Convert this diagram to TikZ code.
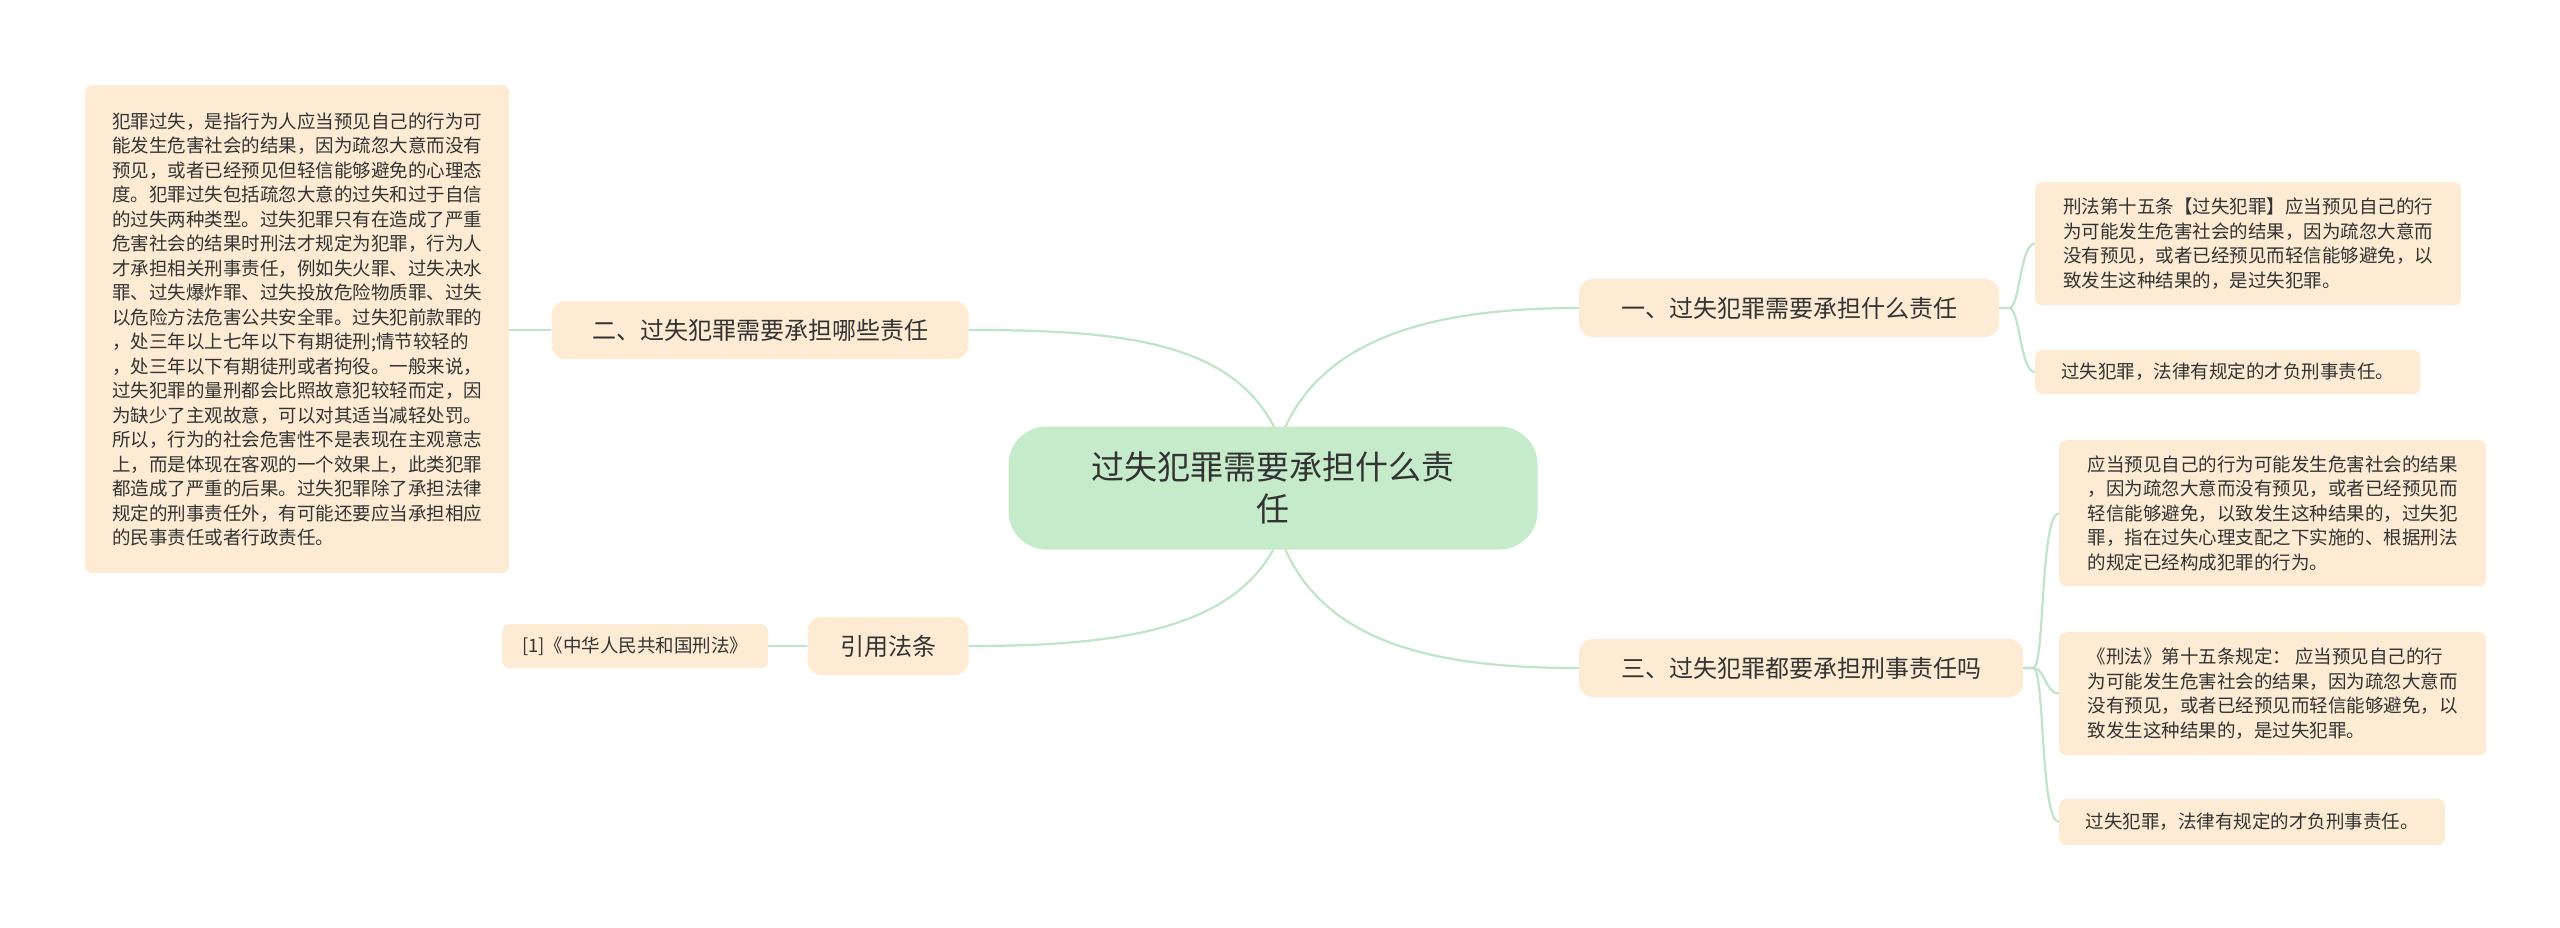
\documentclass[tikz,border=0pt]{standalone}
\usepackage{fontspec}
\setmainfont{Noto Sans CJK SC}
\usetikzlibrary{backgrounds}
\definecolor{lk}{HTML}{BFE5C8}
\definecolor{peach}{HTML}{FDEBD3}
\definecolor{cgreen}{HTML}{C6EBCB}
\definecolor{tx}{HTML}{333333}
\tikzset{
 lnk/.style={draw=lk,line width=2.2pt},
 topic/.style={fill=peach,rounded corners=14pt,text=tx,font=\fontsize{24}{28}\selectfont,minimum height=58pt,inner xsep=22pt},
 leaf/.style={fill=peach,rounded corners=7pt,text=tx,font=\fontsize{18.5}{24.5}\selectfont,align=left,inner xsep=10pt,inner ysep=8pt,anchor=north west},
}
\begin{document}
\begin{tikzpicture}[x=1pt,y=-1pt]
\useasboundingbox (0,0) rectangle (2560,927);
\node[fill=cgreen,rounded corners=38pt,minimum width=529pt,minimum height=123pt,text=tx,font=\fontsize{33}{42}\selectfont,align=center] (c) at (1273,488) {过失犯罪需要承担什么责\\任};
\node[topic,minimum width=420pt] (t1) at (1789,308) {一、过失犯罪需要承担什么责任};
\node[topic,minimum width=444pt] (t3) at (1801,668) {三、过失犯罪都要承担刑事责任吗};
\node[topic,minimum width=417pt] (t2) at (760,330) {二、过失犯罪需要承担哪些责任};
\node[topic,minimum width=161pt] (t4) at (888,646) {引用法条};
\node[leaf,minimum width=424pt,minimum height=488pt] (l1) at (85,85) {犯罪过失，是指行为人应当预见自己的行为可\\能发生危害社会的结果，因为疏忽大意而没有\\预见，或者已经预见但轻信能够避免的心理态\\度。犯罪过失包括疏忽大意的过失和过于自信\\的过失两种类型。过失犯罪只有在造成了严重\\危害社会的结果时刑法才规定为犯罪，行为人\\才承担相关刑事责任，例如失火罪、过失决水\\罪、过失爆炸罪、过失投放危险物质罪、过失\\以危险方法危害公共安全罪。过失犯前款罪的\\，处三年以上七年以下有期徒刑;情节较轻的\\，处三年以下有期徒刑或者拘役。一般来说，\\过失犯罪的量刑都会比照故意犯较轻而定，因\\为缺少了主观故意，可以对其适当减轻处罚。\\所以，行为的社会危害性不是表现在主观意志\\上，而是体现在客观的一个效果上，此类犯罪\\都造成了严重的后果。过失犯罪除了承担法律\\规定的刑事责任外，有可能还要应当承担相应\\的民事责任或者行政责任。};
\node[leaf,minimum width=266pt,minimum height=44pt,anchor=west] (l2) at (502,646) {[1]《中华人民共和国刑法》};
\node[leaf,minimum width=426pt,minimum height=123pt] (r1) at (2035,182) {刑法第十五条【过失犯罪】应当预见自己的行\\为可能发生危害社会的结果，因为疏忽大意而\\没有预见，或者已经预见而轻信能够避免，以\\致发生这种结果的，是过失犯罪。};
\node[leaf,minimum width=385pt,minimum height=44pt,anchor=west] (r2) at (2035,372) {过失犯罪，法律有规定的才负刑事责任。};
\node[leaf,minimum width=427pt,minimum height=146pt] (r3) at (2059,440) {应当预见自己的行为可能发生危害社会的结果\\，因为疏忽大意而没有预见，或者已经预见而\\轻信能够避免，以致发生这种结果的，过失犯\\罪，指在过失心理支配之下实施的、根据刑法\\的规定已经构成犯罪的行为。};
\node[leaf,minimum width=427pt,minimum height=123pt] (r4) at (2059,632) {《刑法》第十五条规定： 应当预见自己的行\\为可能发生危害社会的结果，因为疏忽大意而\\没有预见，或者已经预见而轻信能够避免，以\\致发生这种结果的，是过失犯罪。};
\node[leaf,minimum width=386pt,minimum height=46pt,anchor=west] (r5) at (2059,822) {过失犯罪，法律有规定的才负刑事责任。};
\begin{scope}[on background layer]
\coordinate (cu) at (1280,440);
\coordinate (cd) at (1280,536);
\draw[lnk] (cu) .. controls (1320,330) and (1450,308) .. (t1.west);
\draw[lnk] (cd) .. controls (1320,650) and (1450,668) .. (t3.west);
\draw[lnk] (cu) .. controls (1240,340) and (1120,330) .. (t2.east);
\draw[lnk] (cd) .. controls (1240,630) and (1120,646) .. (t4.east);
\draw[lnk] (t2.west) -- (l1.east |- t2.west);
\draw[lnk] (t4.west) -- (l2.east);
\draw[lnk] (t1.east) -- ++(10,0) .. controls (2020,308) and (2020,243) .. (r1.west);
\draw[lnk] (t1.east) -- ++(10,0) .. controls (2020,308) and (2020,372) .. (r2.west);
\draw[lnk] (t3.east) -- ++(10,0) .. controls (2045,668) and (2040,513) .. (r3.west);
\draw[lnk] (t3.east) -- ++(10,0) .. controls (2045,668) and (2045,693) .. (r4.west);
\draw[lnk] (t3.east) -- ++(10,0) .. controls (2045,668) and (2040,822) .. (r5.west);
\end{scope}
\end{tikzpicture}
\end{document}
